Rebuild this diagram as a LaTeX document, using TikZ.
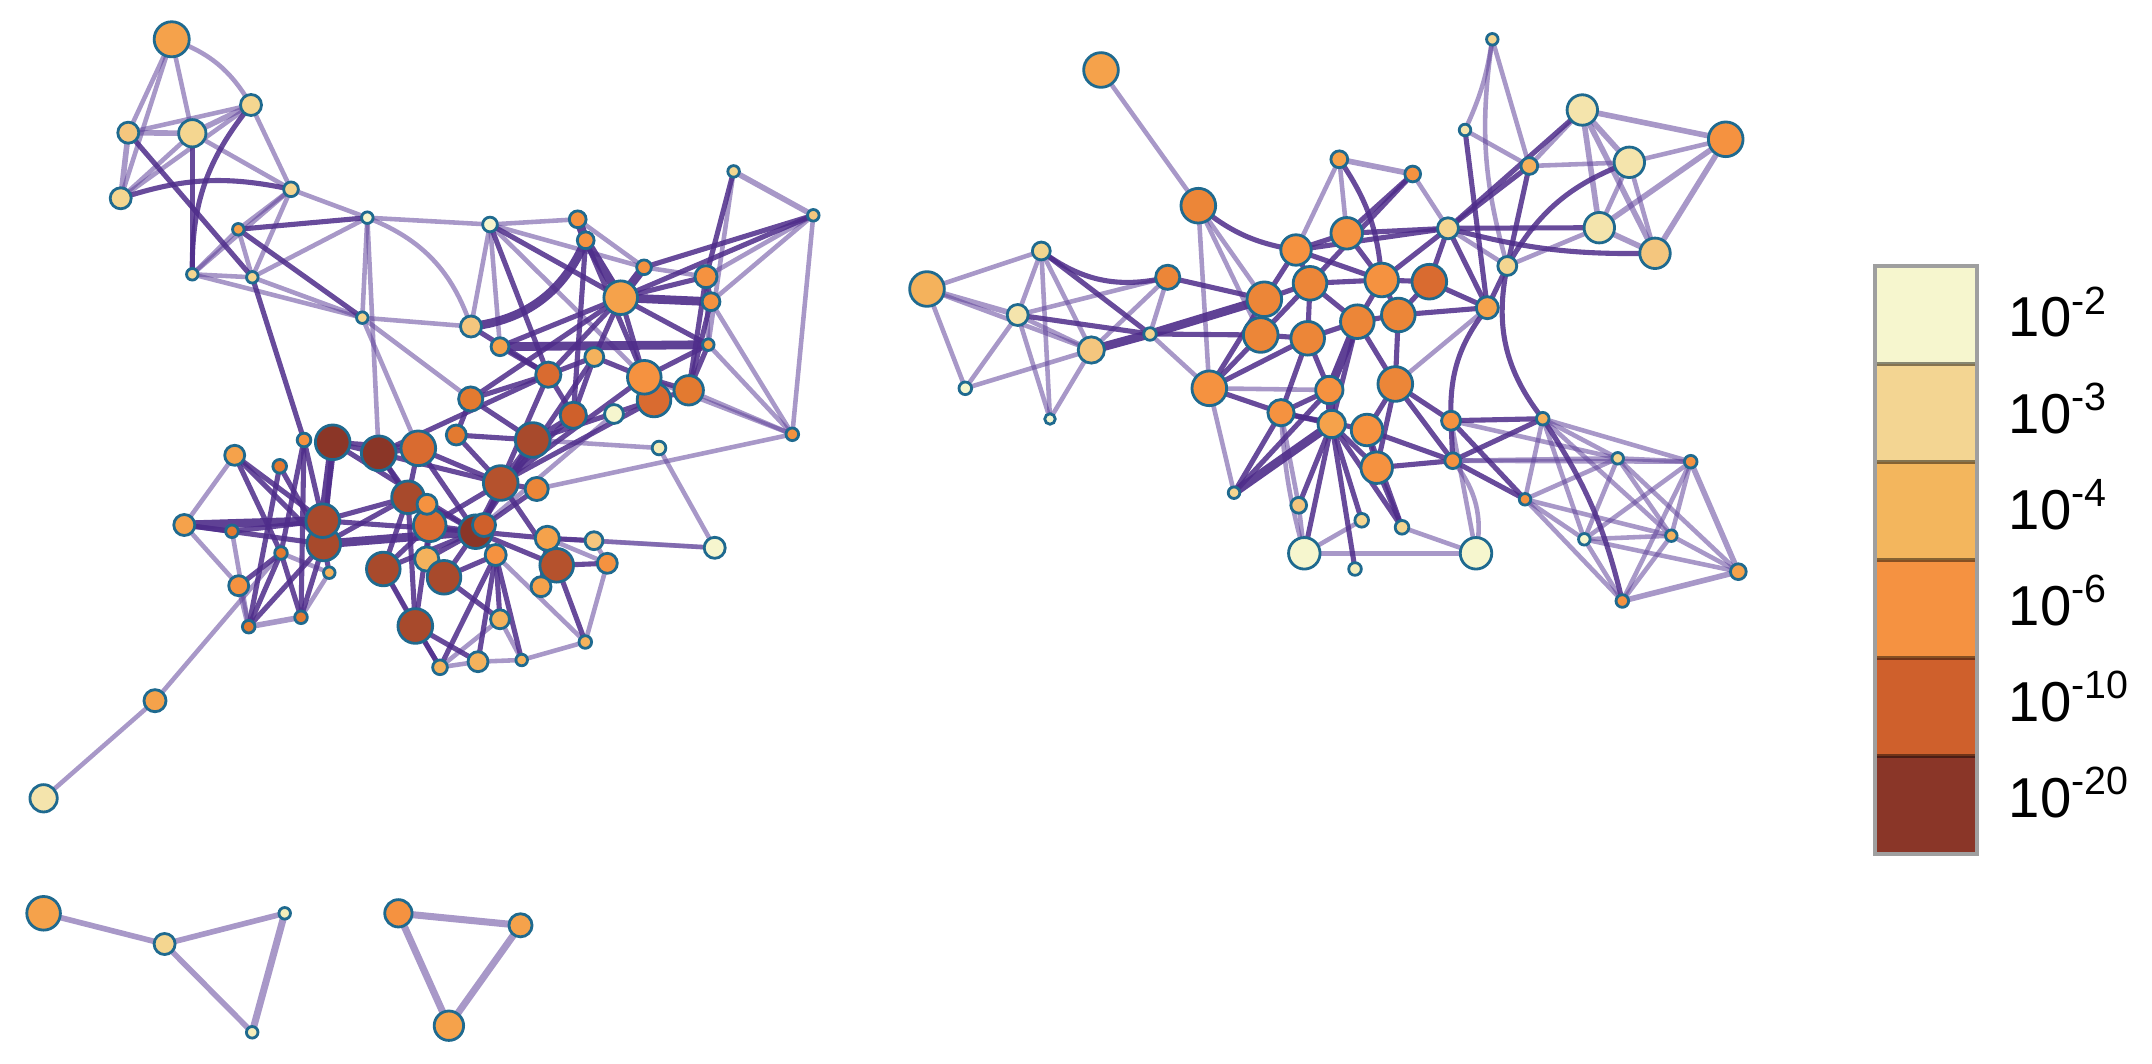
\documentclass[tikz,border=0pt]{standalone}
\usepackage{fontspec}
\setmainfont{Liberation Sans}
\usetikzlibrary{backgrounds}
\definecolor{nodeline}{HTML}{1F6A8F}
\definecolor{liteC}{HTML}{61449B}
\definecolor{darkC}{HTML}{4E2C8A}
\definecolor{k1}{HTML}{F6F6CE}
\definecolor{k2}{HTML}{F4EDBA}
\definecolor{k3}{HTML}{F4E4AC}
\definecolor{k4}{HTML}{F4D690}
\definecolor{k5}{HTML}{F4C67E}
\definecolor{k6}{HTML}{F4B25C}
\definecolor{k7}{HTML}{F5A24B}
\definecolor{k8}{HTML}{F59240}
\definecolor{k9}{HTML}{EC8638}
\definecolor{k10}{HTML}{E37A30}
\definecolor{k11}{HTML}{D96B30}
\definecolor{k12}{HTML}{CF602B}
\definecolor{k13}{HTML}{B5522D}
\definecolor{k14}{HTML}{A84A2C}
\definecolor{k15}{HTML}{8B3627}
\definecolor{g1}{HTML}{F6F6CE}
\definecolor{g2}{HTML}{F3D592}
\definecolor{g3}{HTML}{F3B65D}
\definecolor{g4}{HTML}{F59241}
\definecolor{g5}{HTML}{CF602C}
\definecolor{g6}{HTML}{8A3628}
\newcommand{\gn}[5]{\node[gnode,fill=#4,minimum size=#5*0.021cm] (#1) at (#2,#3) {};}
\begin{document}
\begin{tikzpicture}[x=0.01cm,y=-0.01cm,
  gnode/.style={circle,draw=nodeline,line width=0.8pt,inner sep=0pt,outer sep=0pt},
  lite/.style={draw=liteC,draw opacity=0.55,line width=1.3pt},
  litew/.style={draw=liteC,draw opacity=0.55,line width=1.6pt},
  litewide/.style={draw=liteC,draw opacity=0.55,line width=2pt},
  dark/.style={draw=darkC,draw opacity=0.85,line width=1.45pt},
  darkw/.style={draw=darkC,draw opacity=0.9,line width=2.5pt},
  legcell/.style={rectangle,inner sep=0pt,outer sep=0pt,minimum width=1.02cm,minimum height=0.98cm},
  leglab/.style={anchor=base west,inner sep=0pt,font=\fontsize{16}{19}\selectfont}]
\path[use as bounding box] (0,0) rectangle (2152,1064);
% ---- top-left group
\gn{t1}{171.7}{39.3}{k7}{16.7}
\gn{t2}{128.3}{132.7}{k5}{10}
\gn{t3}{192.3}{133.3}{k4}{13}
\gn{t4}{251}{105}{k4}{10}
\gn{t5}{120.7}{198.3}{k4}{10}
\gn{t6}{291}{189.3}{k4}{7}
\gn{t7}{238.3}{229.3}{k7}{5.5}
\gn{t8}{192.3}{274.3}{k4}{5.5}
\gn{t9}{252.3}{277.3}{k4}{5.5}
\gn{t10}{367.3}{217.7}{k1}{5.5}
\gn{t11}{490}{224.5}{k1}{7}
\gn{t12}{362.3}{317.7}{k4}{5.5}
\gn{t13}{471}{326.5}{k5}{10}
% ---- upper group of left cluster
\gn{u1}{577.7}{219.3}{k8}{8}
\gn{u2}{585.7}{240.3}{k8}{8}
\gn{u3}{644}{267.3}{k8}{7}
\gn{u4}{620.7}{297.7}{k7}{16}
\gn{u5}{706}{276.7}{k8}{10.5}
\gn{u6}{711}{301.7}{k8}{8.5}
\gn{u7}{708.3}{344.7}{k7}{5.5}
\gn{u8}{813.3}{215.3}{k5}{5.5}
\gn{u9}{733.6}{171.4}{k4}{5.5}
\gn{u10}{500}{346.7}{k7}{8.5}
\gn{u11}{594.3}{357}{k6}{9}
\gn{u12}{548.3}{374.7}{k11}{12}
\gn{u14}{654}{400}{k11}{16}
\gn{u13}{644.3}{377.3}{k8}{16}
\gn{u15}{688.7}{390.3}{k10}{14}
\gn{u16}{470.7}{399}{k10}{11.5}
\gn{u17}{573.3}{415.3}{k12}{12.5}
\gn{u18}{614}{414}{k1}{9}
\gn{u19}{792.3}{434.3}{k8}{6}
\gn{u20}{659}{448}{k2}{6.5}
\gn{u21}{714.7}{547.8}{k1}{10}
% ---- dense bottom group
\gn{b1}{532.7}{440}{k14}{16.5}
\gn{b2}{456.3}{435}{k10}{9.5}
\gn{b3}{332.7}{442.3}{k15}{16.5}
\gn{b4}{378.7}{453.3}{k15}{16.5}
\gn{b5}{418.3}{448.3}{k11}{16.5}
\gn{b6}{304}{440}{k8}{6.5}
\gn{b7}{234.7}{455.3}{k7}{9.5}
\gn{b8}{279.7}{466.3}{k10}{6.5}
\gn{b9}{500.7}{483}{k13}{16.5}
\gn{b10}{536.7}{489}{k9}{11}
\gn{b11}{408}{497.3}{k14}{15.5}
\gn{b15}{429.7}{525.3}{k11}{15.5}
\gn{b12}{427}{504.3}{k8}{9.5}
\gn{b14}{323.7}{544}{k14}{16}
\gn{b13}{322.7}{520.7}{k14}{16}
\gn{b16}{475.7}{531.7}{k15}{16}
\gn{b17}{484}{525}{k12}{11}
\gn{b18}{184.3}{525}{k7}{10}
\gn{b19}{232}{531.3}{k10}{6}
\gn{b20}{281}{553}{k10}{6}
\gn{b21}{329.3}{572.7}{k6}{5.5}
\gn{b22}{547.3}{538.3}{k7}{11.5}
\gn{b23}{594}{540.7}{k5}{8.5}
\gn{b24}{495.7}{555}{k8}{10}
\gn{b25}{426.7}{559}{k6}{11.5}
\gn{b26}{383.3}{569}{k14}{16}
\gn{b27}{444}{577.3}{k14}{16}
\gn{b28}{556.7}{565.3}{k13}{16}
\gn{b29}{607.3}{563.3}{k8}{9.5}
\gn{b30}{541}{586.7}{k7}{9.5}
\gn{b31}{238.7}{585.7}{k8}{9.5}
\gn{b32}{248.7}{626.7}{k10}{6}
\gn{b33}{301}{617.3}{k10}{6}
\gn{b34}{415.3}{626}{k14}{16.5}
\gn{b35}{500}{619.3}{k6}{9}
\gn{b36}{585.3}{642}{k6}{6}
\gn{b37}{440}{667.3}{k6}{7}
\gn{b38}{478}{661.7}{k6}{9.5}
\gn{b39}{521.7}{660}{k6}{5.5}
% ---- tail and small groups
\gn{s1}{155}{700.7}{k7}{10.5}
\gn{s2}{43.6}{798.3}{k3}{13}
\gn{p1}{43.6}{913.3}{k7}{16}
\gn{p2}{164.6}{944}{k4}{10}
\gn{p3}{284.7}{913.3}{k2}{5.5}
\gn{p4}{252.2}{1032.3}{k2}{5.5}
\gn{q1}{398.4}{913.3}{k8}{13}
\gn{q2}{520.5}{925.3}{k7}{11}
\gn{q3}{448.9}{1025.7}{k7}{14}
% ---- right cluster
\gn{r1}{1101}{70}{k7}{16.5}
\gn{r2}{1198.3}{205.7}{k9}{16.5}
\gn{r3}{1339.3}{159.3}{k7}{8}
\gn{r4}{1041.3}{251}{k4}{8.5}
\gn{r5}{927}{289}{k6}{16.5}
\gn{r6}{1017.7}{315}{k3}{10}
\gn{r7}{1091.3}{350}{k5}{12.5}
\gn{r8}{1167.7}{277.3}{k9}{11.5}
\gn{r9}{1150}{334}{k4}{6}
\gn{r10}{965.3}{388.3}{k1}{6}
\gn{r11}{1050}{419}{k1}{5}
\gn{r12}{1209.3}{388.3}{k8}{16.5}
\gn{r13}{1264.3}{299.3}{k9}{16.5}
\gn{r14}{1260.7}{335}{k9}{16.5}
\gn{r15}{1296}{250}{k8}{14.5}
\gn{r16}{1310}{283.3}{k9}{16}
\gn{r17}{1307.7}{338.3}{k9}{16}
\gn{r18}{1346.7}{233.3}{k8}{15}
\gn{r19}{1357.3}{321.7}{k9}{16}
\gn{r20}{1329.3}{390}{k8}{13}
\gn{r21}{1281}{412.7}{k8}{12.5}
\gn{r22}{1381.7}{280}{k8}{16}
\gn{r23}{1429.3}{281.7}{k11}{16.5}
\gn{r24}{1398.3}{315}{k9}{16}
\gn{r25}{1448}{228.3}{k4}{10}
\gn{r26}{1507.3}{266}{k4}{9}
\gn{r27}{1487.3}{307.7}{k7}{10.5}
\gn{r28}{1599.3}{227.7}{k3}{14.5}
\gn{r29}{1655}{253.3}{k5}{14.5}
\gn{r30}{1395.3}{384}{k9}{16.5}
\gn{r31}{1331.7}{424}{k7}{13}
\gn{r32}{1367}{430}{k8}{15}
\gn{r33}{1376.7}{467.7}{k8}{15}
\gn{r34}{1451}{420.7}{k8}{9}
\gn{r35}{1452.7}{460.7}{k8}{7.5}
\gn{r36}{1542.7}{418.7}{k6}{6}
\gn{r37}{1617.7}{458.3}{k4}{5.5}
\gn{r38}{1525}{499.3}{k8}{5.5}
\gn{r39}{1234}{492.7}{k4}{5.5}
\gn{r40}{1298.7}{505.3}{k5}{7.5}
\gn{r41}{1361.7}{520.3}{k4}{6.5}
\gn{r42}{1402}{527.3}{k4}{6.5}
\gn{r43}{1584.3}{539.3}{k1}{5.5}
\gn{r44}{1671.3}{535.7}{k6}{5.5}
\gn{r45}{1304.3}{553.3}{k1}{15}
\gn{r46}{1476}{553.3}{k1}{15}
\gn{r47}{1355}{569}{k2}{6}
\gn{r48}{1492.3}{39.3}{k4}{5.5}
\gn{r49}{1465}{130}{k3}{5.5}
\gn{r50}{1529.3}{166}{k6}{8}
\gn{r51}{1582.3}{110}{k3}{14.5}
\gn{r52}{1725.7}{139.3}{k8}{16.5}
\gn{r53}{1629.3}{162.3}{k3}{14.5}
\gn{r54}{1412.7}{174}{k8}{7.5}
\gn{r55}{1690.7}{461.7}{k8}{6}
\gn{r56}{1738.3}{571.7}{k7}{7.5}
\gn{r57}{1622.3}{601}{k8}{6}
% ---- legend
\node[legcell,fill=g1] (L1) at (1926,315) {};
\node[legcell,fill=g2] (L2) at (1926,413) {};
\node[legcell,fill=g3] (L3) at (1926,511) {};
\node[legcell,fill=g4] (L4) at (1926,609) {};
\node[legcell,fill=g5] (L5) at (1926,707) {};
\node[legcell,fill=g6] (L6) at (1926,805) {};
\foreach \c in {L1,L2,L3,L4,L5}
  \draw[black,opacity=0.45,line width=1.2pt] (\c.south west) -- (\c.south east);
\draw[draw=gray!75,line width=1.3pt] (L1.north west) rectangle (L6.south east);
\node[leglab] (T1) at (2008,337) {10\textsuperscript{-2}};
\node[leglab] (T2) at (2008,433) {10\textsuperscript{-3}};
\node[leglab] (T3) at (2008,529) {10\textsuperscript{-4}};
\node[leglab] (T4) at (2008,625) {10\textsuperscript{-6}};
\node[leglab] (T5) at (2008,721) {10\textsuperscript{-10}};
\node[leglab] (T6) at (2008,817) {10\textsuperscript{-20}};
% ---- edges
\begin{pgfonlayer}{background}
\foreach \a/\b in {t1/t2, t1/t3, t1/t5, t3/t5, t4/t5, t2/t4, t3/t6, t4/t6,
 t6/t7, t6/t8, t6/t9, t6/t10, t7/t8, t7/t9, t8/t9, t8/t12, t9/t12, t10/t11, t10/t12, t12/t13,
 t9/t10, t11/t13, t11/u1, t11/u10, t11/u3, t12/b5, t12/u16, t10/b4, t11/u13, u9/u7, u8/u6,
 u8/u19, u8/u5, u6/u19, u7/u19, u5/u7, u3/u5, u20/b1, u20/u21, u21/b22, u19/b10, u13/u19,
 u15/u19, u18/b16, u1/u3, b18/b31, b18/b7, b33/b21, b19/b32, b20/b21, b37/b38, b38/b39,
 b35/b39, b36/b39, b29/b36, b37/b35, b26/b37, b22/b29, b23/b29, b24/b36, b34/b37, b23/u21,
 s1/s2, s1/b20,
 r1/r2, r2/r12, r2/r13, r2/r14, r4/r5, r4/r6, r4/r7, r4/r11, r5/r7, r5/r10, r6/r7, r6/r10,
 r6/r11, r7/r10, r7/r11, r7/r8, r8/r9, r9/r12, r3/r15, r3/r18, r48/r50,
 r49/r50, r50/r51, r50/r53, r52/r53, r53/r28, r53/r29, r28/r26, r54/r25, r25/r26,
 r45/r46, r46/r34, r36/r37, r36/r38, r36/r43, r36/r44, r36/r55, r37/r55, r37/r43,
 r37/r44, r37/r56, r37/r38, r38/r43, r38/r44, r43/r44, r43/r55, r43/r56, r44/r55, r44/r56,
 r55/r57, r43/r57, r44/r57, r38/r57, r35/r37, r34/r37, r12/r20, r30/r27, r21/r40,
 r42/r46, r40/r45, r41/r45, r39/r12, r6/r8, r35/r55}
  \draw[lite] (\a.center) -- (\b.center);
\foreach \a/\b in {u9/u8, t2/t3, t3/t4, t2/t5, b31/b32, b32/b33, r3/r54, r51/r52, r51/r53, r51/r28, r51/r29,
 r52/r29, r52/r28, r28/r29, r55/r56, r56/r57, r5/r6}
  \draw[litew] (\a.center) -- (\b.center);
\foreach \a/\b in {p1/p2, p2/p3, p2/p4}
  \draw[litew] (\a.center) -- (\b.center);
\foreach \a/\b in {p3/p4, q1/q2, q1/q3, q2/q3}
  \draw[litewide] (\a.center) -- (\b.center);
\draw[lite] (t10.center) to[bend left=25] (t13.center);
\draw[lite] (t1.center) to[bend left=20] (t4.center);
\draw[lite] (r48.center) to[bend right=12] (r26.center);
\draw[lite] (r48.center) to[bend left=8] (r49.center);
\draw[lite] (r45.center) to[bend left=6] (r21.center);
\draw[lite] (r46.center) to[bend right=25] (r35.center);
% dark edges
\foreach \a/\b in {t2/t9, t3/t8, t7/t10, t7/t12, t9/b6, t11/u4, t11/u12, t13/u12,
 u2/u13, u2/u17, u3/u8, u4/u5, u4/u7, u4/u13, u4/u12, u4/u16, u4/u11, u9/u5, u8/u4, u5/u6,
 u5/u15, u6/u15, u7/u13, u7/u15, u13/u14, u13/u15, u14/u15, u12/u16, u12/u17, u11/u17,
 u11/u13, u11/u12, u10/u4, u10/u12, u16/b2, u16/b1, u17/b1, u17/b9, u14/b1, u13/b9,
 u12/b9, u12/b4, u11/b16, u14/b9,
 b3/b4, b3/b5, b4/b5, b3/b16, b4/b11, b4/b9, b5/b11, b5/b9, b5/b16, b1/b9, b1/b16,
 b1/b2, b9/b16, b9/b15, b9/b2, b10/b9, b10/b16, b11/b15, b11/b14, b12/b16, b12/b15,
 b13/b14, b13/b16, b19/b13, b19/b18, b7/b13, b7/b20, b7/b14, b6/b20, b6/b13, b6/b33,
 b8/b14, b8/b32, b20/b31, b20/b32, b20/b33, b14/b21, b14/b33, b14/b32, b26/b34, b11/b34,
 b15/b34, b26/b16, b25/b27, b27/b16, b16/b22, b16/b28, b16/b24, b22/b23, b28/b29,
 b22/b30, b24/b35, b24/b38, b24/b37, b24/b39, b36/b28, b30/b28, b27/b35, b27/b24,
 b15/b16, b17/b16, b17/b9, b9/b28, b13/b11, b3/b14, b4/b15, b25/b15, b25/b16, b34/b38,
 b34/b37, b26/b15, b11/b26, b18/b14,
 r4/r9, r9/r14, r12/r14, r12/r13, r12/r21, r13/r15, r13/r16, r13/r14, r14/r17, r14/r16,
 r15/r18, r15/r16, r16/r19, r16/r17, r17/r19, r18/r22, r22/r23, r22/r19, r19/r24, r23/r27,
 r23/r24, r24/r27, r25/r22, r25/r15, r25/r27, r25/r23, r25/r18, r25/r28, r25/r50, r26/r27,
 r50/r26, r49/r27, r51/r25, r54/r16, r54/r18, r19/r31, r31/r33, r17/r20, r17/r21,
 r21/r31, r21/r32, r32/r33, r31/r40, r31/r41, r31/r42, r31/r45, r31/r47, r20/r39, r30/r19,
 r30/r32, r30/r33, r30/r35, r30/r34, r24/r30, r34/r35, r34/r36, r35/r36, r35/r38, r34/r38,
 r33/r35, r32/r35, r22/r24, r16/r22, r15/r22, r12/r17, r32/r42, r33/r42, r20/r21, r21/r39,
 r8/r13, r6/r9}
  \draw[dark] (\a.center) -- (\b.center);
\foreach \a/\b in {u1/u2, u2/u4, u3/u4, u4/u6, u10/u7, b13/b18, b3/b13, b14/b16,
 r19/r20, r31/r39, r7/r9, r9/r13, r20/r31}
  \draw[darkw] (\a.center) -- (\b.center);
\draw[dark] (t5.center) to[bend left=15] (t6.center);
\draw[dark] (t4.center) to[bend right=20] (t8.center);
\draw[darkw] (t13.center) to[bend right=30] (u2.center);
\draw[dark] (r2.center) to[bend right=15] (r15.center);
\draw[dark] (r3.center) to[bend left=15] (r22.center);
\draw[dark] (r4.center) to[bend right=25] (r8.center);
\draw[dark] (r26.center) to[bend right=25] (r36.center);
\draw[dark] (r27.center) to[bend right=20] (r34.center);
\draw[dark] (r36.center) to[bend left=10] (r57.center);
\draw[dark] (r25.center) to[bend right=8] (r29.center);
\draw[dark] (r26.center) to[bend left=20] (r53.center);
\end{pgfonlayer}
\end{tikzpicture}
\end{document}
